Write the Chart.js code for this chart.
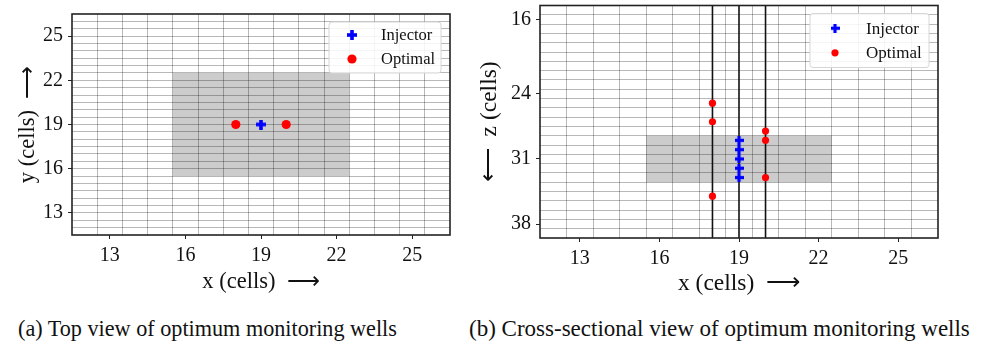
<!DOCTYPE html>
<html>
<head>
<meta charset="utf-8">
<title>Monitoring wells</title>
<script src="https://cdn.jsdelivr.net/npm/chart.js@4.4.0/dist/chart.umd.min.js"></script>
<style>
  body { margin: 0; background: #fff; width: 989px; height: 350px; position: relative; overflow: hidden; font-family: "Liberation Serif", serif; }
  .panel { position: absolute; top: 0; }
  .caption { position: absolute; top: 316px; color: #111; white-space: nowrap; }
</style>
</head>
<body>
<div class="panel" style="left:0"><canvas id="topView" width="460" height="300"></canvas></div>
<div class="panel" style="left:470px"><canvas id="crossView" width="480" height="300"></canvas></div>
<div class="caption" style="left:18px;font-size:22.2px">(a) Top view of optimum monitoring wells</div>
<div class="caption" style="left:469px;font-size:23px">(b) Cross-sectional view of optimum monitoring wells</div>

<script>
// well locations (cell indices)
const injectorTop = [[19, 19]];
const optimalTop = [[18, 19], [20, 19]];
const injectorCross = [[19, 29], [19, 30], [19, 31], [19, 32], [19, 33]];
const optimalCross = [[18, 25], [18, 27], [18, 35], [20, 28], [20, 29], [20, 33]];
const wellColumns = [18, 19, 20];

// plume extent (cell edges)
const plumeX = [15.5, 22.5];
const plumeY = [15.5, 22.5];
const plumeZ = [28.5, 33.5];

// axis ranges and labelled ticks
const xRange = [11.5, 26.5];
const yRange = [11.5, 26.5];
const zRange = [14.5, 39.5];
const xTicks = [13, 16, 19, 22, 25];
const yTicks = [13, 16, 19, 22, 25];
const zTicks = [16, 24, 31, 38];

const serif = "'Liberation Serif', 'Times New Roman', serif";
const gridColor = "rgba(0,0,0,0.28)";

function steps(from, to, step) {
  const out = [];
  for (let v = from; v <= to + 1e-9; v += step) out.push(+v.toFixed(2));
  return out;
}

// filled plus marker like matplotlib "P"
function plusMarker(size, color) {
  const c = document.createElement("canvas");
  c.width = size;
  c.height = size;
  const g = c.getContext("2d");
  const t = size * 0.36;
  const o = (size - t) / 2;
  g.fillStyle = color;
  g.fillRect(o, 0, t, size);
  g.fillRect(0, o, size, t);
  return c;
}

function toPoints(list) {
  return list.map(function (p) {
    return { x: p[0], y: p[1] };
  });
}

// scale with grid lines at `lines` and labels only at `labels`
function cellAxis(range, lines, labels, opts) {
  const all = Array.from(new Set(lines.concat(labels))).sort(function (a, b) { return a - b; });
  return Object.assign({
    type: "linear",
    min: range[0],
    max: range[1],
    afterBuildTicks: function (scale) {
      scale.ticks = all.map(function (v) { return { value: v }; });
    },
    ticks: {
      autoSkip: false,
      maxRotation: 0,
      minRotation: 0,
      padding: 5,
      color: "#111",
      font: { family: serif, size: 20 },
      callback: function (v) {
        return labels.indexOf(v) >= 0 ? String(v) : "";
      },
    },
    grid: {
      lineWidth: 1,
      tickLength: 4,
      color: function (c) {
        return c.tick && lines.indexOf(c.tick.value) >= 0 ? gridColor : "rgba(0,0,0,0)";
      },
      tickColor: function (c) {
        return c.tick && labels.indexOf(c.tick.value) >= 0 ? "#222" : "rgba(0,0,0,0)";
      },
    },
    border: { display: false },
  }, opts);
}

// fixed axis thickness, no extra room for edge labels
function fixSize(prop, px) {
  return function (s) {
    s[prop] = px;
    s.paddingTop = s.paddingBottom = s.paddingLeft = s.paddingRight = 0;
  };
}

// shaded plume box, drawn over the grid
const plumePlugin = {
  id: "plume",
  beforeDatasetsDraw: function (chart, args, o) {
    const ctx = chart.ctx;
    const x = chart.scales.x, y = chart.scales.y;
    const x0 = x.getPixelForValue(o.x[0]), x1 = x.getPixelForValue(o.x[1]);
    const y0 = y.getPixelForValue(o.y[0]), y1 = y.getPixelForValue(o.y[1]);
    ctx.save();
    ctx.fillStyle = "rgba(0,0,0,0.2)";
    ctx.fillRect(Math.min(x0, x1), Math.min(y0, y1), Math.abs(x1 - x0), Math.abs(y1 - y0));
    ctx.restore();
  },
};

// axes frame and legend box in the upper right corner
const framePlugin = {
  id: "frame",
  afterDraw: function (chart, args, o) {
    const ctx = chart.ctx;
    const a = chart.chartArea;
    ctx.save();
    ctx.strokeStyle = "#222";
    ctx.lineWidth = 1.6;
    ctx.strokeRect(a.left, a.top, a.right - a.left, a.bottom - a.top);

    const bx = a.right - 9 - o.width, by = a.top + 8;
    ctx.beginPath();
    ctx.roundRect(bx, by, o.width, o.height, 3);
    ctx.fillStyle = "rgba(255,255,255,0.85)";
    ctx.fill();
    ctx.strokeStyle = "#d6d6d6";
    ctx.lineWidth = 1;
    ctx.stroke();

    const items = chart.data.datasets.filter(function (d) { return d.label; });
    ctx.font = o.fontSize + "px " + serif;
    ctx.textBaseline = "middle";
    ctx.textAlign = "left";
    items.forEach(function (d, i) {
      const cy = by + o.rowTop + i * o.rowGap;
      const cx = bx + o.markerX;
      if (typeof d.pointStyle === "object") {
        const s = d.pointStyle;
        ctx.drawImage(s, cx - s.width / 2, cy - s.height / 2);
      } else {
        ctx.beginPath();
        ctx.arc(cx, cy, d.pointRadius, 0, Math.PI * 2);
        ctx.fillStyle = d.backgroundColor;
        ctx.fill();
      }
      ctx.fillStyle = "#111";
      ctx.fillText(d.label, bx + o.textX, cy + 1);
    });
    ctx.restore();
  },
};

function titleOpts(text, size, pad) {
  return { display: true, text: text, color: "#111", font: { family: serif, size: size }, padding: pad };
}

// (a) top view
new Chart(document.getElementById("topView"), {
  type: "scatter",
  data: {
    datasets: [
      { label: "Injector", data: toPoints(injectorTop), pointStyle: plusMarker(10, "#0000ff"), pointRadius: 5, order: 1 },
      { label: "Optimal", data: toPoints(optimalTop), pointStyle: "circle", pointRadius: 4.6, backgroundColor: "#ff0000", borderWidth: 0, order: 1 },
    ],
  },
  options: {
    responsive: false,
    animation: false,
    events: [],
    layout: { padding: { top: 14, right: 10, left: 0, bottom: 0 } },
    plugins: {
      legend: { display: false },
      tooltip: { enabled: false },
      plume: { x: plumeX, y: plumeY },
      frame: { width: 112, height: 51, rowTop: 13, rowGap: 24, markerX: 23, textX: 52, fontSize: 16.5 },
    },
    scales: {
      x: cellAxis(xRange, steps(12.5, 25.5, 1), xTicks, {
        title: titleOpts("x (cells)  \u27F6", 22.5, { top: 0, bottom: 4 }),
        afterFit: fixSize("height", 65),
      }),
      y: cellAxis(yRange, steps(12, 26, 0.5), yTicks, {
        title: titleOpts("y (cells)  \u27F6", 22.5, { top: 15, bottom: 0 }),
        afterFit: fixSize("width", 72),
      }),
    },
  },
  plugins: [plumePlugin, framePlugin],
});

// (b) cross-section, depth increases downward
const wellLines = wellColumns.map(function (c) {
  return {
    data: [{ x: c, y: zRange[0] }, { x: c, y: zRange[1] }],
    showLine: true,
    pointRadius: 0,
    borderColor: "#111",
    borderWidth: 1.6,
    order: 5,
  };
});

new Chart(document.getElementById("crossView"), {
  type: "scatter",
  data: {
    datasets: [
      { label: "Injector", data: toPoints(injectorCross), pointStyle: plusMarker(9, "#0000ff"), pointRadius: 4.5, order: 1 },
      { label: "Optimal", data: toPoints(optimalCross), pointStyle: "circle", pointRadius: 3.6, backgroundColor: "#ff0000", borderWidth: 0, order: 1 },
    ].concat(wellLines),
  },
  options: {
    responsive: false,
    animation: false,
    events: [],
    layout: { padding: { top: 5, right: 12, left: 0, bottom: 0 } },
    plugins: {
      legend: { display: false },
      tooltip: { enabled: false },
      plume: { x: plumeX, y: plumeZ },
      frame: { width: 119, height: 54, rowTop: 14.7, rowGap: 24.6, markerX: 25, textX: 56, fontSize: 17 },
    },
    scales: {
      x: cellAxis(xRange, steps(12.5, 25.5, 1), xTicks, {
        title: titleOpts("x (cells)  \u27F6", 23.5, { top: 0, bottom: 2 }),
        afterFit: fixSize("height", 62),
      }),
      y: cellAxis(zRange, steps(15.5, 38.5, 1), zTicks, {
        reverse: true,
        title: titleOpts("\u27F5  z (cells)", 23.5, { top: 6, bottom: 0 }),
        afterFit: fixSize("width", 70),
      }),
    },
  },
  plugins: [plumePlugin, framePlugin],
});
</script>
</body>
</html>
